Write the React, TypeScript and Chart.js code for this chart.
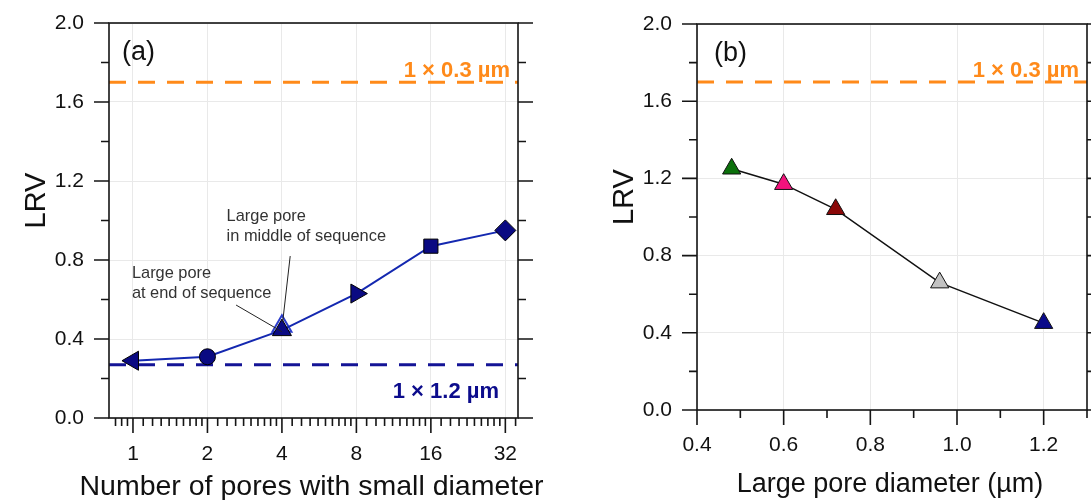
import React, { useEffect, useRef } from 'react';
import { Chart, registerables } from 'chart.js';

Chart.register(...registerables);

const FONT = '"Liberation Sans", Arial, Helvetica, sans-serif';

// ---------- Panel (a) data ----------
const poreCounts = [1, 2, 4, 8, 16, 32];
const lrvA = [0.29, 0.31, 0.445, 0.63, 0.87, 0.95];
const markerA = ['triangle', 'circle', 'triangle', 'triangle', 'rect', 'rectRot'];
const markerRotA = [-90, 0, 0, 90, 0, 0];
const markerSizeA = [11, 8, 11, 11, 10, 10.5];
const midSeqX = [4];
const midSeqLRV = [0.465];
const refSmallLRV = 1.7; // 1 × 0.3 µm
const refLargeLRV = 0.27; // 1 × 1.2 µm
const xRangeA = [0.8, 36];
const xTicksA = [1, 2, 4, 8, 16, 32];
const yTicks = [0, 0.4, 0.8, 1.2, 1.6, 2.0];
const yMinor = [0.2, 0.6, 1.0, 1.4, 1.8];
const octaveBases = [0.5, 1, 2, 4, 8, 16, 32];

// annotations (data coordinates)
const annTexts = [
  ['Large pore', 'in middle of sequence'],
  ['Large pore', 'at end of sequence'],
];
const annTextX = [2.39, 0.99];
const annTextY = [0.997, 0.709];
const annFromX = [4.32, 2.61];
const annFromY = [0.82, 0.572];
const annToX = [4.03, 4.0];
const annToY = [0.488, 0.437];

// ---------- Panel (b) data ----------
const poreDiam = [0.48, 0.6, 0.72, 0.96, 1.2];
const lrvB = [1.25, 1.17, 1.04, 0.66, 0.45];
const colorsB = ['#0b700b', '#f2137c', '#8a0808', '#c2c2c2', '#0a0a8a'];
const xRangeB = [0.4, 1.3];
const xTicksB = [0.4, 0.6, 0.8, 1.0, 1.2];
const xMinorB = [0.5, 0.7, 0.9, 1.1, 1.3];

const ORANGE = '#ff8a1a';
const NAVY_LINE = '#141496';
const NAVY_TEXT = '#0c0c8c';
const GRID = '#e9e9e9';
const AXIS = '#151515';

const xMinorA: number[] = [];
octaveBases.forEach((b) => {
  for (let k = 1; k <= 9; k++) {
    const v = b * (1 + k / 10);
    if (v > xRangeA[0] && v < xRangeA[1]) xMinorA.push(v);
  }
});

function framePlugin(cfg: {
  id: string;
  xMajor: number[];
  xMinor: number[];
  xTitle: string;
  xTitleSize: number;
  xTitleBase: number;
  label: string;
  labelDx: number;
  extra?: (chart: any) => void;
}) {
  return {
    id: cfg.id,
    afterDraw(chart: any) {
      const { ctx, chartArea: a, scales } = chart;
      const x = scales.x;
      const y = scales.y;
      ctx.save();
      // frame
      ctx.strokeStyle = AXIS;
      ctx.lineWidth = 1.6;
      ctx.strokeRect(a.left, a.top, a.right - a.left, a.bottom - a.top);
      ctx.beginPath();
      yTicks.forEach((v) => {
        const p = y.getPixelForValue(v);
        ctx.moveTo(a.left - 15, p);
        ctx.lineTo(a.left, p);
        ctx.moveTo(a.right, p);
        ctx.lineTo(a.right + 15, p);
      });
      yMinor.forEach((v) => {
        const p = y.getPixelForValue(v);
        ctx.moveTo(a.left - 8, p);
        ctx.lineTo(a.left, p);
        ctx.moveTo(a.right, p);
        ctx.lineTo(a.right + 8, p);
      });
      cfg.xMajor.forEach((v) => {
        const p = x.getPixelForValue(v);
        ctx.moveTo(p, a.bottom);
        ctx.lineTo(p, a.bottom + 15);
      });
      cfg.xMinor.forEach((v) => {
        const p = x.getPixelForValue(v);
        ctx.moveTo(p, a.bottom);
        ctx.lineTo(p, a.bottom + 8);
      });
      ctx.stroke();

      // axis titles
      ctx.fillStyle = '#111';
      ctx.font = `${cfg.xTitleSize}px ${FONT}`;
      ctx.textAlign = 'center';
      ctx.textBaseline = 'alphabetic';
      ctx.fillText(cfg.xTitle, (a.left + a.right) / 2 - 2, cfg.xTitleBase);

      ctx.save();
      ctx.translate(a.left - 64, (a.top + a.bottom) / 2 - 20);
      ctx.rotate(-Math.PI / 2);
      ctx.font = `29px ${FONT}`;
      ctx.fillText('LRV', 0, 0);
      ctx.restore();

      // panel label
      ctx.font = `27px ${FONT}`;
      ctx.textAlign = 'left';
      ctx.fillText(cfg.label, a.left + cfg.labelDx, a.top + 37);

      // reference label 1 x 0.3 um
      ctx.font = `bold 22px ${FONT}`;
      ctx.textAlign = 'right';
      ctx.fillStyle = ORANGE;
      ctx.fillText('1 × 0.3 µm', a.right - 8, y.getPixelForValue(refSmallLRV) - 5);

      if (cfg.extra) cfg.extra(chart);
      ctx.restore();
    },
  };
}

export default function App() {
  const refA = useRef<HTMLCanvasElement>(null);
  const refB = useRef<HTMLCanvasElement>(null);

  useEffect(() => {
    const tickFont = { family: FONT, size: 21 };

    const yScale = (width: number) => ({
      min: 0,
      max: 2,
      afterBuildTicks: (s: any) => {
        s.ticks = yTicks.map((v) => ({ value: v }));
      },
      afterFit: (s: any) => {
        s.width = width;
        s.paddingTop = 0;
        s.paddingBottom = 0;
      },
      grid: { color: GRID, lineWidth: 1, drawTicks: false },
      border: { display: false },
      ticks: {
        padding: 25,
        font: tickFont,
        color: '#111',
        callback: (v: any) => Number(v).toFixed(1),
      },
    });

    const xFit = (h: number) => (s: any) => {
      s.height = h;
      s.paddingLeft = 0;
      s.paddingRight = 0;
    };

    const chartA = new Chart(refA.current as HTMLCanvasElement, {
      type: 'scatter',
      data: {
        datasets: [
          {
            label: '1 × 0.3 µm',
            data: xRangeA.map((x) => ({ x, y: refSmallLRV })),
            showLine: true,
            borderColor: ORANGE,
            borderWidth: 3,
            borderDash: [17, 12],
            pointRadius: 0,
            order: 10,
          },
          {
            label: '1 × 1.2 µm',
            data: xRangeA.map((x) => ({ x, y: refLargeLRV })),
            showLine: true,
            borderColor: NAVY_LINE,
            borderWidth: 3,
            borderDash: [17, 12],
            pointRadius: 0,
            order: 9,
          },
          {
            label: 'Large pore in middle of sequence',
            data: midSeqX.map((x, i) => ({ x, y: midSeqLRV[i] })),
            pointStyle: 'triangle',
            pointRadius: 11,
            backgroundColor: '#ffffff',
            borderColor: '#2a3ccc',
            pointBorderWidth: 2,
            order: 5,
          },
          {
            label: 'LRV',
            data: poreCounts.map((x, i) => ({ x, y: lrvA[i] })),
            showLine: true,
            borderColor: '#1428b0',
            borderWidth: 2,
            pointStyle: markerA as any,
            pointRotation: markerRotA,
            pointRadius: markerSizeA,
            pointBackgroundColor: '#0a0a82',
            pointBorderColor: '#000',
            pointBorderWidth: 1,
            order: 1,
          },
        ],
      },
      options: {
        responsive: false,
        animation: false,
        devicePixelRatio: 1,
        layout: { autoPadding: false, padding: { left: 0, right: 27, top: 23, bottom: 0 } },
        plugins: { legend: { display: false }, tooltip: { enabled: false } },
        scales: {
          x: {
            type: 'logarithmic',
            min: xRangeA[0],
            max: xRangeA[1],
            bounds: 'data',
            afterBuildTicks: (s: any) => {
              s.ticks = xTicksA.map((v) => ({ value: v }));
            },
            afterFit: xFit(82),
            grid: { color: GRID, lineWidth: 1, drawTicks: false },
            border: { display: false },
            ticks: {
              autoSkip: false,
              maxRotation: 0,
              padding: 24,
              font: tickFont,
              color: '#111',
              callback: (v: any) => String(v),
            },
          },
          y: yScale(109) as any,
        },
      } as any,
      plugins: [
        framePlugin({
          id: 'frameA',
          xMajor: xTicksA,
          xMinor: xMinorA,
          xTitle: 'Number of pores with small diameter',
          xTitleSize: 28.5,
          xTitleBase: 495,
          label: '(a)',
          labelDx: 13,
          extra: (chart: any) => {
            const { ctx, chartArea: a, scales } = chart;
            const x = scales.x;
            const y = scales.y;
            ctx.font = `bold 22px ${FONT}`;
            ctx.textAlign = 'right';
            ctx.fillStyle = NAVY_TEXT;
            ctx.fillText('1 × 1.2 µm', a.right - 19, a.bottom - 20);

            ctx.font = `16.4px ${FONT}`;
            ctx.textAlign = 'left';
            ctx.fillStyle = '#333';
            annTexts.forEach((lines, i) => {
              const px = x.getPixelForValue(annTextX[i]);
              const py = y.getPixelForValue(annTextY[i]);
              lines.forEach((t, j) => ctx.fillText(t, px, py + j * 20));
            });
            ctx.strokeStyle = '#222';
            ctx.lineWidth = 1;
            ctx.beginPath();
            annFromX.forEach((_, i) => {
              ctx.moveTo(x.getPixelForValue(annFromX[i]), y.getPixelForValue(annFromY[i]));
              ctx.lineTo(x.getPixelForValue(annToX[i]), y.getPixelForValue(annToY[i]));
            });
            ctx.stroke();
          },
        }),
      ],
    });

    const chartB = new Chart(refB.current as HTMLCanvasElement, {
      type: 'scatter',
      data: {
        datasets: [
          {
            label: '1 × 0.3 µm',
            data: xRangeB.map((x) => ({ x, y: refSmallLRV })),
            showLine: true,
            borderColor: ORANGE,
            borderWidth: 3,
            borderDash: [17, 12],
            pointRadius: 0,
            order: 10,
          },
          {
            label: 'LRV',
            data: poreDiam.map((x, i) => ({ x, y: lrvB[i] })),
            showLine: true,
            borderColor: '#111',
            borderWidth: 1.5,
            pointStyle: 'triangle',
            pointRadius: 10.5,
            pointBackgroundColor: colorsB,
            pointBorderColor: '#111',
            pointBorderWidth: 1,
            order: 1,
          },
        ],
      },
      options: {
        responsive: false,
        animation: false,
        devicePixelRatio: 1,
        layout: { autoPadding: false, padding: { left: 0, right: 4, top: 24, bottom: 0 } },
        plugins: { legend: { display: false }, tooltip: { enabled: false } },
        scales: {
          x: {
            type: 'linear',
            min: xRangeB[0],
            max: xRangeB[1],
            afterBuildTicks: (s: any) => {
              s.ticks = xTicksB.map((v) => ({ value: v }));
            },
            afterFit: xFit(90),
            grid: { color: GRID, lineWidth: 1, drawTicks: false },
            border: { display: false },
            ticks: {
              autoSkip: false,
              maxRotation: 0,
              padding: 23,
              font: tickFont,
              color: '#111',
              callback: (v: any) => Number(v).toFixed(1),
            },
          },
          y: yScale(152) as any,
        },
      } as any,
      plugins: [
        framePlugin({
          id: 'frameB',
          xMajor: xTicksB,
          xMinor: xMinorB,
          xTitle: 'Large pore diameter (µm)',
          xTitleSize: 27,
          xTitleBase: 492,
          label: '(b)',
          labelDx: 17,
        }),
      ],
    });

    return () => {
      chartA.destroy();
      chartB.destroy();
    };
  }, []);

  return (
    <div
      style={{
        position: 'fixed',
        left: 0,
        top: 0,
        width: 1091,
        height: 500,
        background: '#fff',
        overflow: 'hidden',
      }}
    >
      <canvas
        ref={refA}
        width={545}
        height={500}
        style={{ position: 'absolute', left: 0, top: 0, width: 545, height: 500 }}
      />
      <canvas
        ref={refB}
        width={546}
        height={500}
        style={{ position: 'absolute', left: 545, top: 0, width: 546, height: 500 }}
      />
    </div>
  );
}
